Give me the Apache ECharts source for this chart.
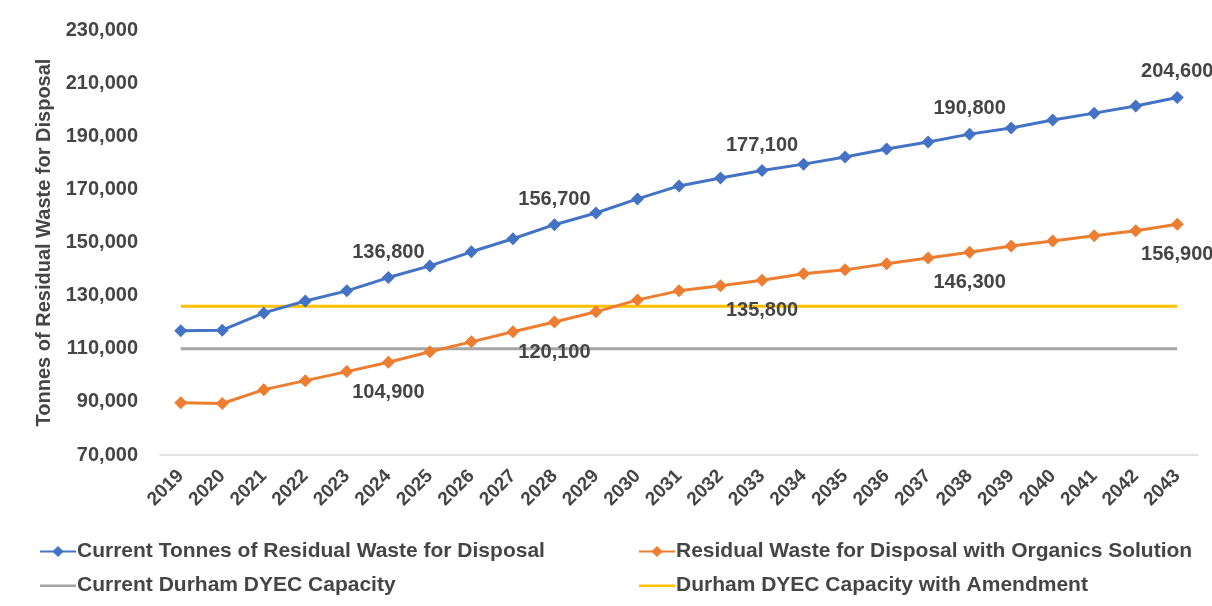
<!DOCTYPE html>
<html>
<head>
<meta charset="utf-8">
<script src="https://cdn.jsdelivr.net/npm/echarts@6/dist/echarts.min.js"></script>
<style>html,body{margin:0;padding:0;background:#fff;}#c{width:1212px;height:606px;}</style>
</head>
<body>
<div id="c"></div>
<script>
const years = ['2019','2020','2021','2022','2023','2024','2025','2026','2027','2028','2029','2030','2031','2032','2033','2034','2035','2036','2037','2038','2039','2040','2041','2042','2043'];
const currentWaste = [116800,117000,123500,128000,131800,136800,141200,146500,151400,156700,161100,166400,171300,174300,177100,179500,182200,185200,187800,190800,193100,196100,198700,201400,204600];
const organicsWaste = [89700,89400,94600,98000,101400,104900,108900,112600,116400,120100,123900,128400,131800,133700,135800,138200,139700,142000,144200,146300,148700,150600,152500,154400,156900];
const currentCapacity = [110000,110000,110000,110000,110000,110000,110000,110000,110000,110000,110000,110000,110000,110000,110000,110000,110000,110000,110000,110000,110000,110000,110000,110000,110000];
const amendedCapacity = [126000,126000,126000,126000,126000,126000,126000,126000,126000,126000,126000,126000,126000,126000,126000,126000,126000,126000,126000,126000,126000,126000,126000,126000,126000];
const labelYears = ['2024','2028','2033','2038','2043'];
const yTicks = [70000, 230000, 20000];
const seriesNames = ['Current Tonnes of Residual Waste for Disposal','Residual Waste for Disposal with Organics Solution','Current Durham DYEC Capacity','Durham DYEC Capacity with Amendment'];
const yAxisName = 'Tonnes of Residual Waste for Disposal';

const fmt = v => v.toLocaleString('en-US');
const FONT = 'Liberation Sans, Arial, sans-serif';
const TXT = '#454545';
const LINE_ICON = 'path://M0,0 L0.01,0 L0.01,0.01 Z M0,6 L36,6 L36,8.5 L0,8.5 Z M0,14 L0.01,14 L0.01,13.99 Z';

function labelled(values, pos, dist) {
  return values.map((v, i) => labelYears.includes(years[i])
    ? { value: v, label: { show: true, position: pos, distance: dist, formatter: p => fmt(p.value), fontSize: 20, fontWeight: 'bold', color: TXT, fontFamily: FONT } }
    : v);
}

const legendText = { fontSize: 21, fontWeight: 'bold', color: TXT, fontFamily: FONT, padding: [0,0,0,-4] };

const chart = echarts.init(document.getElementById('c'));
chart.setOption({
  animation: false,
  backgroundColor: '#fff',
  grid: { left: 160, right: 14, top: 30, bottom: 151, containLabel: false },
  legend: [
    { orient: 'vertical', left: 34, top: 536, itemGap: 13, itemWidth: 36, itemHeight: 14, textStyle: legendText,
      data: [seriesNames[0], { name: seriesNames[2], icon: LINE_ICON }] },
    { orient: 'vertical', left: 633, top: 536, itemGap: 13, itemWidth: 36, itemHeight: 14, textStyle: legendText,
      data: [seriesNames[1], { name: seriesNames[3], icon: LINE_ICON }] }
  ],
  xAxis: {
    type: 'category', data: years, boundaryGap: true,
    axisLine: { lineStyle: { color: '#D9D9D9', width: 1.5 } },
    axisTick: { show: false },
    axisLabel: { rotate: 45, fontSize: 19, fontWeight: 'bold', color: TXT, fontFamily: FONT, margin: 18, interval: 0 }
  },
  yAxis: {
    type: 'value', min: yTicks[0], max: yTicks[1], interval: yTicks[2],
    name: yAxisName, nameLocation: 'middle', nameGap: 106, nameRotate: 90,
    nameTextStyle: { fontSize: 20, fontWeight: 'bold', color: TXT, fontFamily: FONT },
    axisLine: { show: false }, axisTick: { show: false }, splitLine: { show: false },
    axisLabel: { fontSize: 20, fontWeight: 'bold', color: TXT, fontFamily: FONT, margin: 22, formatter: v => fmt(v) }
  },
  series: [
    { name: seriesNames[2], type: 'line', data: currentCapacity, symbol: 'none', lineStyle: { color: '#A5A5A5', width: 3 }, itemStyle: { color: '#A5A5A5' }, z: 1 },
    { name: seriesNames[3], type: 'line', data: amendedCapacity, symbol: 'none', lineStyle: { color: '#FFC000', width: 3 }, itemStyle: { color: '#FFC000' }, z: 1 },
    { name: seriesNames[0], type: 'line', data: labelled(currentWaste, 'top', 9), symbol: 'diamond', symbolSize: 13,
      lineStyle: { color: '#4472C4', width: 3 }, itemStyle: { color: '#4472C4' }, z: 3 },
    { name: seriesNames[1], type: 'line', data: labelled(organicsWaste, 'bottom', 14), symbol: 'diamond', symbolSize: 13,
      lineStyle: { color: '#ED7D31', width: 3 }, itemStyle: { color: '#ED7D31' }, z: 3 }
  ]
});
</script>
</body>
</html>
